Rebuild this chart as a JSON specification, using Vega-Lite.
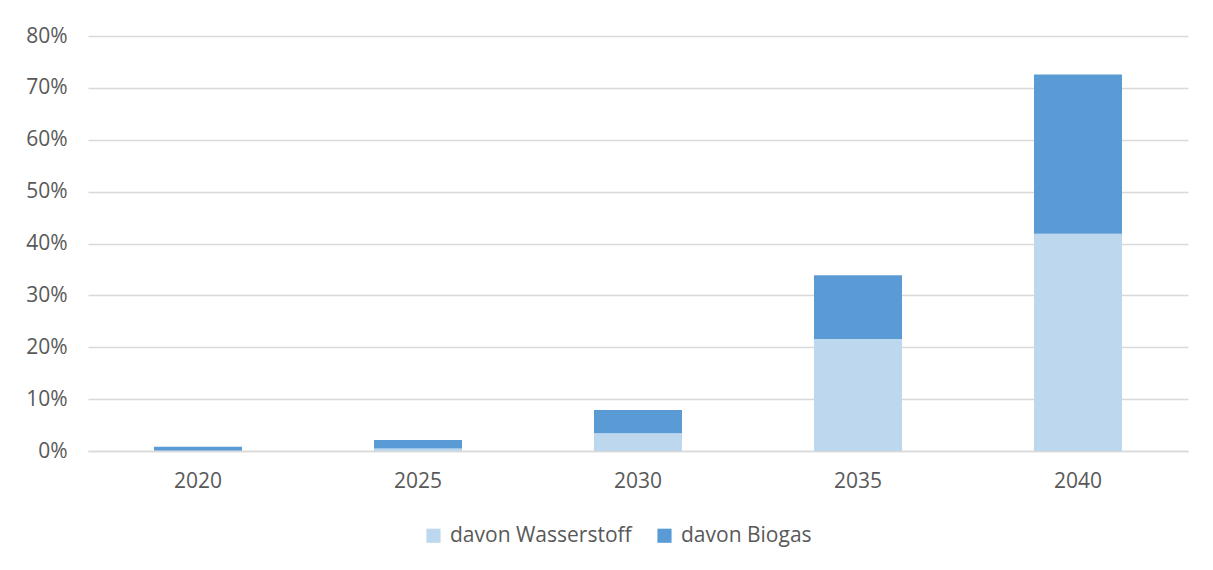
{
  "$schema": "https://vega.github.io/schema/vega-lite/v6.json",
  "autosize": "none",
  "width": 1100,
  "height": 415,
  "padding": {"left": 88, "top": 36, "right": 25, "bottom": 119},
  "background": "white",
  "data": {
    "values": [
      {"year": "2020", "type": "davon Wasserstoff", "o": 1, "value": 0.001},
      {"year": "2020", "type": "davon Biogas", "o": 2, "value": 0.007},
      {"year": "2025", "type": "davon Wasserstoff", "o": 1, "value": 0.005},
      {"year": "2025", "type": "davon Biogas", "o": 2, "value": 0.016},
      {"year": "2030", "type": "davon Wasserstoff", "o": 1, "value": 0.034},
      {"year": "2030", "type": "davon Biogas", "o": 2, "value": 0.045},
      {"year": "2035", "type": "davon Wasserstoff", "o": 1, "value": 0.216},
      {"year": "2035", "type": "davon Biogas", "o": 2, "value": 0.123},
      {"year": "2040", "type": "davon Wasserstoff", "o": 1, "value": 0.419},
      {"year": "2040", "type": "davon Biogas", "o": 2, "value": 0.307}
    ]
  },
  "mark": {"type": "bar"},
  "encoding": {
    "x": {
      "field": "year", "type": "nominal", "title": null,
      "scale": {"paddingInner": 0.6, "paddingOuter": 0.3},
      "axis": {"labelAngle": 0, "ticks": false, "domainColor": "#D9D9D9", "domainWidth": 1.5, "labelPadding": 19, "labelFontSize": 21, "labelColor": "#595959", "labelFont": "Open Sans"}
    },
    "y": {
      "field": "value", "type": "quantitative", "stack": "zero", "title": null,
      "scale": {"domain": [0, 0.8], "nice": false},
      "axis": {"format": ".0%", "values": [0, 0.1, 0.2, 0.3, 0.4, 0.5, 0.6, 0.7, 0.8], "domain": false, "ticks": false, "gridColor": "#D9D9D9", "gridWidth": 1.5, "labelPadding": 21, "labelFontSize": 21, "labelColor": "#595959", "labelFont": "Open Sans"}
    },
    "color": {
      "field": "type", "type": "nominal", "title": null,
      "scale": {"domain": ["davon Wasserstoff", "davon Biogas"], "range": ["#BDD7EE", "#5B9BD5"]},
      "legend": {"orient": "none", "legendX": 335, "legendY": 489, "direction": "horizontal", "symbolType": "square", "symbolSize": 200, "symbolStrokeWidth": 0, "labelFontSize": 21, "labelLimit": 0, "labelOffset": 6, "labelColor": "#595959", "labelFont": "Open Sans", "columnPadding": 22}
    },
    "order": {"field": "o", "type": "quantitative"}
  },
  "config": {"view": {"stroke": null}}
}
